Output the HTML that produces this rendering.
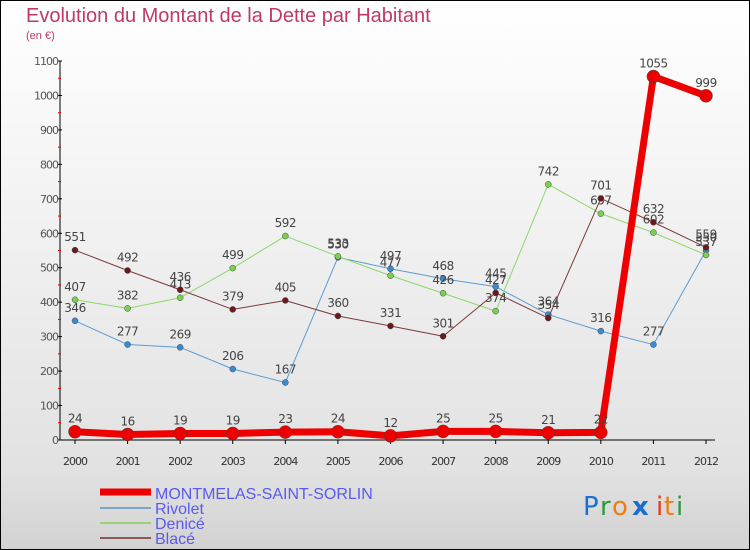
<!DOCTYPE html>
<html><head><meta charset="utf-8"><style>
body{margin:0}
#wrap{position:relative;width:750px;height:550px;overflow:hidden;font-family:"DejaVu Sans","Liberation Sans",sans-serif}
svg{position:absolute;left:0;top:0}
</style></head><body>
<div id="wrap">
<svg id="c" width="750" height="550">
<defs>
<linearGradient id="bg" x1="0" y1="0" x2="0" y2="1">
<stop offset="0" stop-color="#ffffff"/><stop offset="0.85" stop-color="#e2e2e2"/><stop offset="1" stop-color="#d2d2d2"/>
</linearGradient>
</defs>
<rect x="0" y="0" width="750" height="550" fill="url(#bg)" stroke="#000" stroke-width="2"/>
<text x="26" y="22" font-size="20" fill="#c0386a" font-family="Liberation Sans, sans-serif">Evolution du Montant de la Dette par Habitant</text>
<text x="26" y="39" font-size="11" fill="#c0386a" font-family="Liberation Sans, sans-serif">(en €)</text>
<g id="axes"></g>
<g id="series"></g>
<g id="legend" font-family="Liberation Sans, sans-serif">
<line x1="100" y1="492" x2="151" y2="492" stroke="#ee0000" stroke-width="7"/>
<text x="155" y="499" font-size="16" fill="#5a5aee">MONTMELAS-SAINT-SORLIN</text>
<line x1="100" y1="508" x2="151" y2="508" stroke="#7aa6c8" stroke-width="2"/>
<text x="155" y="514" font-size="16" fill="#5a5aee">Rivolet</text>
<line x1="100" y1="523" x2="151" y2="523" stroke="#99d07a" stroke-width="2"/>
<text x="155" y="529" font-size="16" fill="#5a5aee">Denicé</text>
<line x1="100" y1="538" x2="151" y2="538" stroke="#8a5a5a" stroke-width="2"/>
<text x="155" y="544" font-size="16" fill="#5a5aee">Blacé</text>
</g>
<g font-size="26" font-family="DejaVu Sans, sans-serif">
<text x="583" y="515" fill="#1a6fd0">P</text><text x="600" y="515" fill="#2a9a3a">r</text><text x="612" y="515" fill="#f07d10">o</text><text x="632" y="515" fill="#1a6fd0" font-weight="bold">x</text><text x="656" y="515" fill="#e83a1a">i</text><text x="664" y="515" fill="#f07d10">t</text><text x="676" y="515" fill="#2a9a3a">i</text>
</g>
</svg>
</div>
<script>
const years=[2000,2001,2002,2003,2004,2005,2006,2007,2008,2009,2010,2011,2012];
const yTicks=[0,100,200,300,400,500,600,700,800,900,1000,1100];
const montmelas=[24,16,19,19,23,24,12,25,25,21,22,1055,999];
const rivolet=[346,277,269,206,167,530,497,468,445,364,316,277,550];
const denice=[407,382,413,499,592,533,477,426,374,742,657,602,537];
const blace=[551,492,436,379,405,360,331,301,427,354,701,632,559];
const NS='http://www.w3.org/2000/svg';
const x0=75,x1=706,y0=440,y1=61;
function xs(i){return x0+(x1-x0)*i/(years.length-1);}
function ys(v){return y0-(y0-y1)*v/1100;}
function mk(tag,attrs,parent){const e=document.createElementNS(NS,tag);for(const k in attrs)e.setAttribute(k,attrs[k]);parent.appendChild(e);return e;}
const ax=document.getElementById('axes');
let a=mk('line',{x1:60,y1:y1,x2:60,y2:y0,stroke:'#000','stroke-width':1},ax);


a=mk('line',{x1:60,y1:y0,x2:715,y2:y0,stroke:'#000','stroke-width':1},ax);


yTicks.forEach((t,i)=>{
  const y=ys(t);
  const l=mk('line',{x1:58,y1:y,x2:62,y2:y,stroke:'#000'},ax);
  
  
  if(i<yTicks.length-1){const m=mk('line',{x1:58,y1:ys(t+50),x2:61,y2:ys(t+50),stroke:'#e00'},ax);
  
  }
  const tx=mk('text',{x:58,y:y+4,'font-size':11,fill:'#555','text-anchor':'end','letter-spacing':'-1'},ax);
  tx.textContent=t;
  
  
});
years.forEach((yr,i)=>{
  const x=xs(i);
  const l=mk('line',{x1:x,y1:y0,x2:x,y2:y0+4,stroke:'#000'},ax);
  
  
  const tx=mk('text',{x:x,y:y0+25,'font-size':11,fill:'#333','text-anchor':'middle','letter-spacing':'-1'},ax);
  tx.textContent=yr;
  
  
});
const sg=document.getElementById('series');
function drawSeries(vals,color,w,r,name,fill){
  const g=mk('g',{},sg);
  
  
  const p=mk('polyline',{points:vals.map((v,i)=>xs(i)+','+ys(v)).join(' '),fill:'none',stroke:color,'stroke-width':w,'stroke-linejoin':'round'},g);
  
  
  vals.forEach((v,i)=>{
    const c=mk('circle',{cx:xs(i),cy:ys(v),r:r,fill:fill,stroke:'#444','stroke-width':0.5},g);
    
    
    const t=mk('text',{x:xs(i),y:ys(v)-9,'font-size':12,fill:'#444','text-anchor':'middle','letter-spacing':'-0.5'},g);
    t.textContent=v;
    
    
  });
}
drawSeries(rivolet,'#5b9bd0',1,3,'rivolet','#3a8ad0');
drawSeries(denice,'#8cd868',1,3,'denice','#7cd050');
drawSeries(blace,'#7a3a3a',1,3,'blace','#6a1a1a');
drawSeries(montmelas,'#ee0000',7,6.5,'montmelas','#ee0000');
</script>
</body></html>
